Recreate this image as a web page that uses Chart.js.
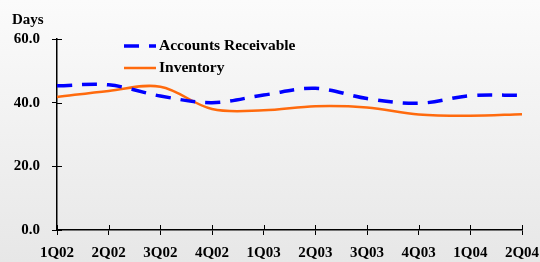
<!DOCTYPE html>
<html>
<head>
<meta charset="utf-8">
<script src="https://cdn.jsdelivr.net/npm/chart.js@4.4.1/dist/chart.umd.min.js"></script>
<style>
  html, body { margin: 0; padding: 0; }
  body { width: 540px; height: 262px; overflow: hidden;
         background: linear-gradient(#fbfbfb, #e7e7e7); }
  #wrap { position: relative; width: 540px; height: 262px; }
</style>
</head>
<body>
<div id="wrap"><canvas id="daysChart"></canvas></div>
<script>
// quarters and days values
const quarters = ['1Q02', '2Q02', '3Q02', '4Q02', '1Q03', '2Q03', '3Q03', '4Q03', '1Q04', '2Q04'];
const receivable = [45.3, 45.6, 42.1, 40.0, 42.4, 44.5, 41.3, 39.8, 42.2, 42.3];
const inventory = [41.8, 43.7, 45.0, 38.0, 37.6, 38.9, 38.5, 36.3, 35.9, 36.4];
const yTicks = [0, 20, 40, 60];

const FONT = { family: "'Liberation Serif', 'Times New Roman', serif", size: 15, weight: 'bold' };

// legend drawn inside the plot, top left, like the original
const innerLegend = {
  id: 'innerLegend',
  afterDraw(chart) {
    const ctx = chart.ctx;
    ctx.save();
    ctx.font = 'bold 15.5px ' + FONT.family;
    ctx.textBaseline = 'middle';
    chart.data.datasets.forEach((ds, i) => {
      const y = 46 + i * 22;
      ctx.strokeStyle = ds.borderColor;
      ctx.lineWidth = ds.borderWidth;
      ctx.setLineDash(ds.borderDash || []);
      ctx.beginPath();
      ctx.moveTo(124, y);
      ctx.lineTo(156, y);
      ctx.stroke();
      ctx.setLineDash([]);
      ctx.fillStyle = '#000';
      ctx.fillText(ds.label, 159, y);
    });
    // axis title
    ctx.font = 'bold 15px ' + FONT.family;
    ctx.fillText('Days', 12, 20);
    ctx.restore();
  }
};

// small tick marks crossing the axes on the inside
const innerTicks = {
  id: 'innerTicks',
  afterDraw(chart) {
    const ctx = chart.ctx, x = chart.scales.x, y = chart.scales.y;
    ctx.save();
    ctx.strokeStyle = '#000';
    ctx.lineWidth = 1;
    ctx.beginPath();
    y.ticks.forEach((t, i) => {
      const py = Math.round(y.getPixelForTick(i)) + 0.5;
      ctx.moveTo(x.left, py); ctx.lineTo(x.left + 5, py);
    });
    x.ticks.forEach((t, i) => {
      const px = Math.round(x.getPixelForTick(i)) + 0.5;
      ctx.moveTo(px, y.bottom); ctx.lineTo(px, y.bottom - 5);
    });
    ctx.stroke();
    ctx.restore();
  }
};

new Chart(document.getElementById('daysChart'), {
  type: 'line',
  data: {
    labels: quarters,
    datasets: [{
      label: 'Accounts Receivable',
      data: receivable,
      borderColor: '#0000ff',
      borderWidth: 3.5,
      borderDash: [15, 10],
      tension: 0.35,
      pointRadius: 0,
      fill: false
    }, {
      label: 'Inventory',
      data: inventory,
      borderColor: '#ff6a0d',
      borderWidth: 2.5,
      tension: 0.35,
      pointRadius: 0,
      fill: false
    }]
  },
  options: {
    responsive: true,
    maintainAspectRatio: false,
    animation: false,
    layout: { padding: { top: 39, right: 18, left: 0, bottom: 0 } },
    plugins: { legend: { display: false }, tooltip: { enabled: false } },
    scales: {
      x: {
        offset: false,
        grid: { drawOnChartArea: false, color: '#000', tickLength: 5, tickWidth: 1 },
        border: { color: '#000', width: 1.5 },
        ticks: { color: '#000', font: FONT, padding: 9, maxRotation: 0, autoSkip: false },
        afterFit(scale) { scale.height = 32; scale.paddingRight = 0; scale.paddingLeft = 0; }
      },
      y: {
        min: 0,
        max: 60,
        afterBuildTicks(scale) { scale.ticks = yTicks.map(v => ({ value: v })); },
        grid: { drawOnChartArea: false, color: '#000', tickLength: 5, tickWidth: 1 },
        border: { color: '#000', width: 1.5 },
        ticks: { color: '#000', font: FONT, padding: 12, callback: v => v.toFixed(1) },
        afterFit(scale) { scale.width = 57; scale.paddingTop = 0; scale.paddingBottom = 0; }
      }
    }
  },
  plugins: [innerLegend, innerTicks]
});
</script>
</body>
</html>
